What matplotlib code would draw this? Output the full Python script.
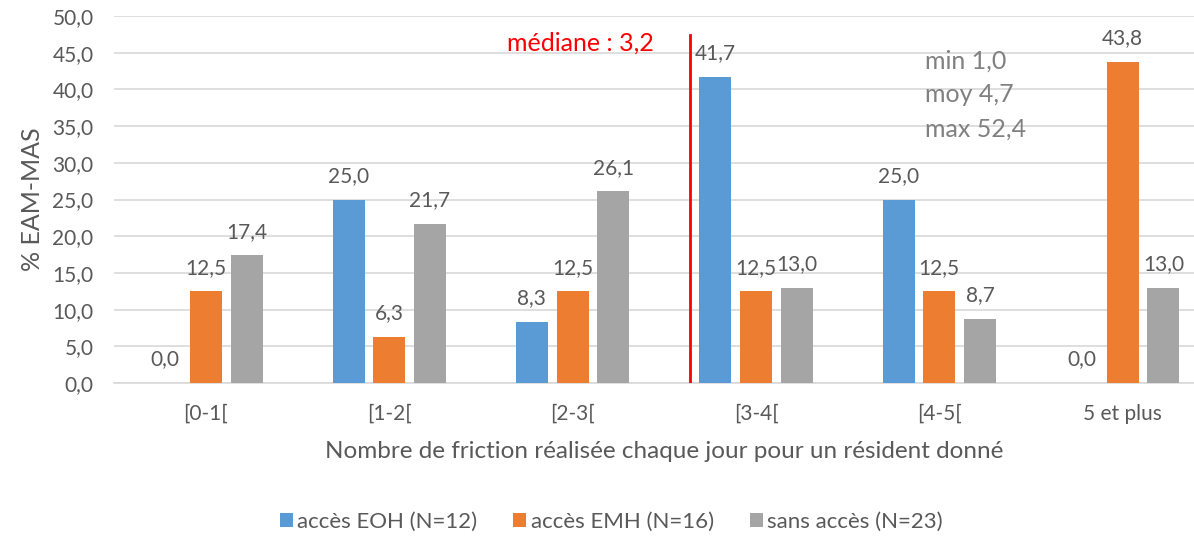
import matplotlib
matplotlib.use("Agg")
import matplotlib.pyplot as plt
from matplotlib.ticker import FuncFormatter
import numpy as np

plt.rcParams['font.family'] = ['Lato', 'DejaVu Sans']

# data
categories = ['[0-1[', '[1-2[', '[2-3[', '[3-4[', '[4-5[', '5 et plus']
eoh = [0.0, 25.0, 8.3, 41.7, 25.0, 0.0]
emh = [12.5, 6.3, 12.5, 12.5, 12.5, 43.8]
sans = [17.4, 21.7, 26.1, 13.0, 8.7, 13.0]
series_names = ['accès EOH (N=12)', 'accès EMH (N=16)', 'sans accès (N=23)']
mediane_label = 'médiane : 3,2'
mediane_pos = 3.14   # where the red line sits on the category axis
stats_lines = ['min 1,0', 'moy 4,7', 'max 52,4']

colors = ['#5B9BD5', '#ED7D31', '#A5A5A5']
txt_gray = '#595959'

fig = plt.figure(figsize=(11.94, 5.36), dpi=100)
# chart area runs past the right edge of the picture (cropped)
ax = fig.add_axes([0.0957, 0.2854, 0.9213, 0.6847])

x = np.arange(len(categories)) + 0.5
w = 0.1745
off = 0.222

for k, (vals, name) in enumerate(zip([eoh, emh, sans], series_names)):
    xs = x + (k - 1) * off
    ax.bar(xs, vals, width=w, color=colors[k], label=name, zorder=3)
    for xi, v in zip(xs, vals):
        ax.annotate(f"{v:.1f}".replace('.', ','), (xi, v), xytext=(0, 17),
                    textcoords='offset points', ha='center', va='center',
                    fontsize=15, color=txt_gray)

ax.set_xlim(0, len(categories))
ax.set_ylim(0, 50)
ax.set_yticks(np.arange(0, 50.1, 5))
ax.yaxis.set_major_formatter(FuncFormatter(lambda v, p: f"{v:.1f}".replace('.', ',')))
ax.set_xticks(x)
ax.set_xticklabels(categories)
ax.tick_params(axis='both', length=0, labelsize=15, labelcolor=txt_gray)
ax.tick_params(axis='x', pad=15)
ax.tick_params(axis='y', pad=15)
ax.grid(axis='y', color='#D9D9D9', linewidth=1.2, zorder=0)
for s in ['top', 'right', 'left']:
    ax.spines[s].set_visible(False)
ax.spines['bottom'].set_color('#D9D9D9')
ax.spines['bottom'].set_linewidth(1.2)

ax.set_xlabel('Nombre de friction réalisée chaque jour pour un résident donné',
              fontsize=17.5, color=txt_gray, labelpad=12)
ax.set_ylabel('% EAM-MAS', fontsize=18, color=txt_gray, labelpad=6)

# median line
ax.plot([mediane_pos, mediane_pos], [0, 47.4], color='red', linewidth=2, zorder=4)
ax.text(2.944, 46.3, mediane_label, color='red', fontsize=18, ha='right', va='center')

for i, line in enumerate(stats_lines):
    ax.text(4.42, 43.9 - i * 4.65, line, color='#808080', fontsize=18,
            ha='left', va='center')

fig.legend(loc='center', bbox_to_anchor=(0.512, 0.026), ncol=3, frameon=False,
           fontsize=16, labelcolor=txt_gray, handlelength=0.6, handleheight=0.6,
           handletextpad=0.2, columnspacing=1.6)

fig.savefig('out.png', dpi=100)
